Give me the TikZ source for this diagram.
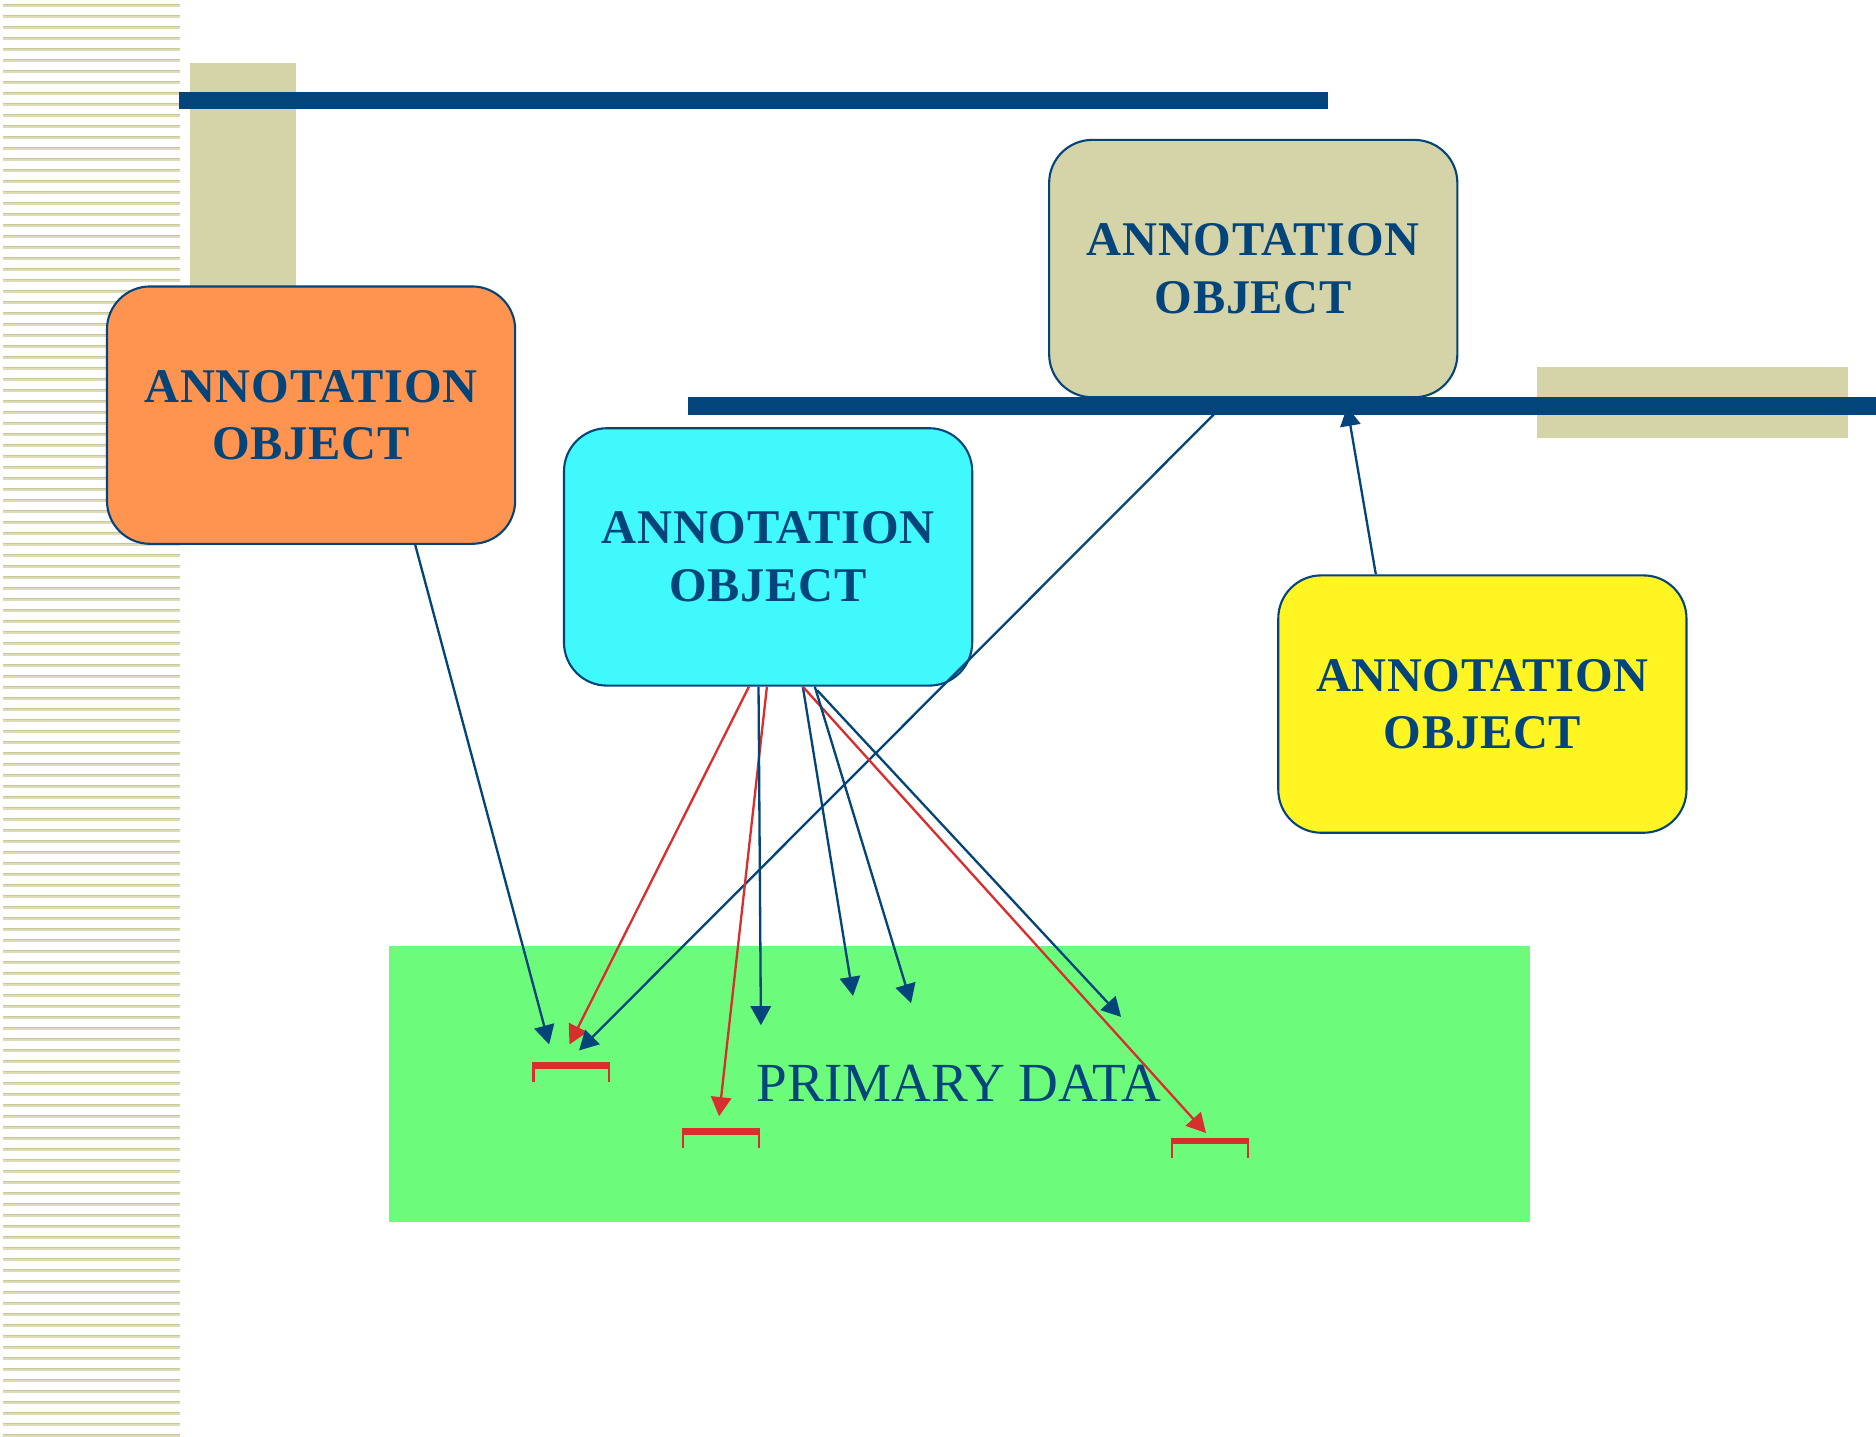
\documentclass[tikz,border=0pt]{standalone}
\usepackage{fontspec}
\setmainfont{Liberation Serif}
\usetikzlibrary{arrows.meta,calc}
\definecolor{navy}{HTML}{03457A}
\definecolor{tanc}{HTML}{D5D3A8}
\definecolor{stripeA}{HTML}{C9C797}
\definecolor{stripeB}{HTML}{DDDBB8}
\definecolor{orangec}{HTML}{FF9450}
\definecolor{cyanc}{HTML}{3FF9FD}
\definecolor{yellowc}{HTML}{FFF522}
\definecolor{greenc}{HTML}{6DFB7C}
\definecolor{redc}{HTML}{D92E2E}
\begin{document}
\begin{tikzpicture}[x=0.01cm,y=-0.01cm,
 annobox/.style={draw=navy, line width=0.5pt, rounded corners=0.36cm, minimum width=3.41cm, minimum height=2.15cm, align=center, text=navy, font=\fontsize{11.5}{13.66}\selectfont\bfseries\addfontfeature{LetterSpace=1.5}, inner sep=0pt},
 bluearrow/.style={draw=navy, line width=0.55pt, -{Triangle[length=0.16cm,width=0.17cm]}},
 redarrow/.style={draw=redc, line width=0.55pt, -{Triangle[length=0.16cm,width=0.17cm]}},
 barfill/.style={fill=navy},
 decofill/.style={fill=tanc}
]
\useasboundingbox (0,0) rectangle (1568,1201);
\fill[white] (0,0) rectangle (1568,1201);

% striped left band
\foreach \k in {0,...,130} {
  \fill[stripeA] (2.5,{3.3+9.194*\k}) rectangle (150.5,{4.6+9.194*\k});
  \fill[stripeB] (2.5,{4.6+9.194*\k}) rectangle (150.5,{5.8+9.194*\k});
}

% decorative rectangles and bars
\fill[decofill] (159,53) rectangle (247,241);
\fill[barfill] (150,77) rectangle (1110,91);
\fill[decofill] (1285,307) rectangle (1545,366);

% primary data area
\fill[greenc] (325,791) rectangle (1279,1021);
\node[anchor=base west, text=navy, font=\fontsize{13.1}{15}\selectfont, inner sep=0pt] (pd) at (632,921) {PRIMARY DATA};

% annotation objects
\node[annobox, fill=orangec] (orange) at (260,347) {ANNOTATION\\OBJECT};
\node[annobox, fill=cyanc] (cyan) at (642,465.5) {ANNOTATION\\OBJECT};
\node[annobox, fill=tanc] (tan) at (1047.5,224.5) {ANNOTATION\\OBJECT};
\node[annobox, fill=yellowc] (yellow) at (1239,588.5) {ANNOTATION\\OBJECT};

% arrow targets
\coordinate (t1) at (459,873);
\coordinate (t2) at (476,873);
\coordinate (t3) at (484,878);
\coordinate (t4) at (601,933);
\coordinate (t5) at (636,857);
\coordinate (t6) at (713,832.5);
\coordinate (t7) at (761.5,838.5);
\coordinate (t8) at (937,850);
\coordinate (t9) at (1008,947);
\coordinate (t10) at (1126,340);

% connectors
\draw[bluearrow] ([xshift=0.87cm]orange.south) -- (t1);
\draw[redarrow] ([xshift=-0.16cm]cyan.south) -- (t2);
\draw[bluearrow] ([xshift=-0.195cm]tan.south) -- (t3);
\draw[redarrow] ([xshift=-0.01cm]cyan.south) -- (t4);
\draw[bluearrow] ([xshift=-0.08cm]cyan.south) -- (t5);
\draw[bluearrow] ([xshift=0.29cm]cyan.south) -- (t6);
\draw[redarrow] ([xshift=0.29cm]cyan.south) -- (t9);
\draw[bluearrow] ([xshift=0.39cm]cyan.south) -- (t7);
\draw[bluearrow] ([xshift=0.41cm,yshift=-0.03cm]cyan.south) -- (t8);
\draw[bluearrow] ([xshift=-0.89cm]yellow.north) -- (t10);

% second bar (over the connectors)
\fill[barfill] (575,332) rectangle (1568,347);

% red brackets marking spans in the primary data
\foreach \bx/\by in {445/888, 570/943, 979/951} {
  \fill[redc] (\bx,\by) rectangle ++(65,5.6);
  \fill[redc] (\bx,\by) rectangle ++(1.8,16.7);
  \fill[redc] ({\bx+63.2},\by) rectangle ++(1.8,16.7);
}
\end{tikzpicture}
\end{document}
